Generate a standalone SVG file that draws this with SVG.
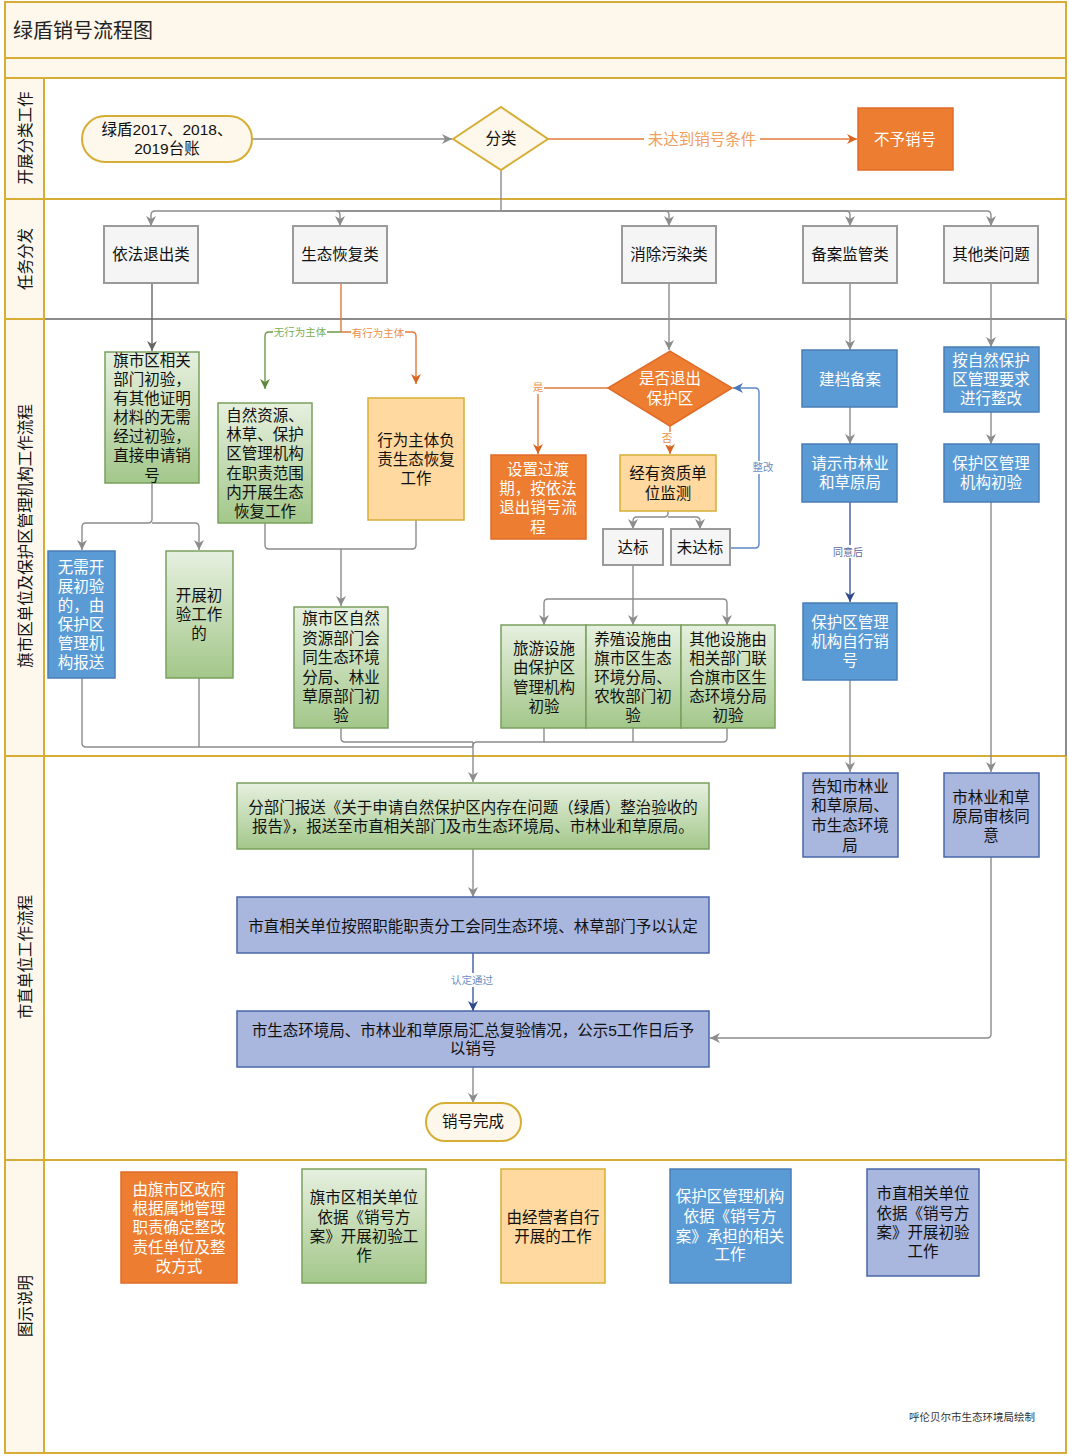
<svg xmlns="http://www.w3.org/2000/svg" width="1069" height="1456" viewBox="0 0 1069 1456">
<style>
.t{font-family:"Liberation Sans","Noto Sans CJK SC",sans-serif;font-size:15.5px;text-anchor:middle;dominant-baseline:central;fill:#111}
.w{fill:#fff}
.lbl{font-family:"Liberation Sans","Noto Sans CJK SC",sans-serif;font-size:10.5px;text-anchor:middle;dominant-baseline:central}
.hd{font-family:"Liberation Sans","Noto Sans CJK SC",sans-serif;font-size:15.5px;text-anchor:middle;dominant-baseline:central;fill:#111}
.g{fill:url(#gg);stroke:#7AA05E;stroke-width:1.5}
.b{fill:#5B9BD5;stroke:#4A7EB5;stroke-width:1.5}
.o{fill:#ED7D31;stroke:#E06C28;stroke-width:1.5}
.lo{fill:#FFD9A0;stroke:#D6AE35;stroke-width:1.5}
.lv{fill:#A9B6DE;stroke:#4867A8;stroke-width:1.5}
.gr{fill:#F5F5F5;stroke:#9A9A9A;stroke-width:2}
.cr{fill:#FDF7EC;stroke:#D6AE35;stroke-width:2}
.c{fill:none;stroke:#8C8C8C;stroke-width:1.4}
.co{fill:none;stroke:#E07A3A;stroke-width:1.4}
.cg{fill:none;stroke:#6E9A48;stroke-width:1.4}
.cb{fill:none;stroke:#5B86C4;stroke-width:1.4}
.cn{fill:none;stroke:#3E5C9E;stroke-width:1.4}
.fr{fill:none;stroke:#D6AE35;stroke-width:2}
</style>
<defs>
<linearGradient id="gg" x1="0" y1="0" x2="0" y2="1">
<stop offset="0" stop-color="#E6F0DF"/>
<stop offset="1" stop-color="#A3C78A"/>
</linearGradient>
<marker id="ag" markerUnits="userSpaceOnUse" markerWidth="10" markerHeight="10" refX="10" refY="5" orient="auto"><path d="M0,0 L10,5 L0,10 L3,5 z" fill="#8C8C8C"/></marker>
<marker id="ad" markerUnits="userSpaceOnUse" markerWidth="10" markerHeight="10" refX="10" refY="5" orient="auto"><path d="M0,0 L10,5 L0,10 L3,5 z" fill="#666"/></marker>
<marker id="ao" markerUnits="userSpaceOnUse" markerWidth="10" markerHeight="10" refX="10" refY="5" orient="auto"><path d="M0,0 L10,5 L0,10 L3,5 z" fill="#D9641F"/></marker>
<marker id="agr" markerUnits="userSpaceOnUse" markerWidth="10" markerHeight="10" refX="10" refY="5" orient="auto"><path d="M0,0 L10,5 L0,10 L3,5 z" fill="#5E8A3C"/></marker>
<marker id="ab" markerUnits="userSpaceOnUse" markerWidth="10" markerHeight="10" refX="10" refY="5" orient="auto"><path d="M0,0 L10,5 L0,10 L3,5 z" fill="#4A78BE"/></marker>
<marker id="an" markerUnits="userSpaceOnUse" markerWidth="10" markerHeight="10" refX="10" refY="5" orient="auto"><path d="M0,0 L10,5 L0,10 L3,5 z" fill="#2F4A8A"/></marker>
</defs>

<g id="frame">
<rect x="5" y="2" width="1061" height="1451" fill="#fff"/>
<rect x="5" y="2" width="1061" height="76" fill="#FDF7EC"/>
<rect x="5" y="78" width="39" height="1375" fill="#FDF7EC"/>
<line x1="5" y1="58" x2="1066" y2="58" class="fr"/>
<line x1="5" y1="78" x2="1066" y2="78" class="fr"/>
<line x1="5" y1="199" x2="1066" y2="199" class="fr"/>
<line x1="5" y1="319" x2="44" y2="319" class="fr"/>
<line x1="44" y1="319" x2="1066" y2="319" stroke="#8C8C8C" stroke-width="2"/>
<line x1="5" y1="756" x2="1066" y2="756" class="fr"/>
<line x1="5" y1="1160" x2="1066" y2="1160" class="fr"/>
<line x1="44" y1="78" x2="44" y2="1453" class="fr"/>
<path d="M1066,319 V2 H5 V1453 H1066 V756" class="fr"/>
<line x1="1066" y1="319" x2="1066" y2="756" stroke="#8C8C8C" stroke-width="2"/>
<text x="13" y="31" font-family="Liberation Sans,Noto Sans CJK SC,sans-serif" font-size="20" fill="#222" dominant-baseline="central">绿盾销号流程图</text>
<text class="hd" transform="translate(25,138) rotate(-90)">开展分类工作</text>
<text class="hd" transform="translate(25,259) rotate(-90)">任务分发</text>
<text class="hd" transform="translate(25,536) rotate(-90)">旗市区单位及保护区管理机构工作流程</text>
<text class="hd" transform="translate(25,957) rotate(-90)">市直单位工作流程</text>
<text class="hd" transform="translate(25,1306) rotate(-90)">图示说明</text>
</g>

<g id="connectors">
<path class="c" d="M252,139 H452" marker-end="url(#ag)"/>
<path class="co" d="M548,139 H857" marker-end="url(#ao)"/>
<rect x="644" y="130" width="116" height="18" fill="#fff"/>
<text class="lbl" x="702" y="139" fill="#F0A060" style="font-size:15.5px">未达到销号条件</text>
<path class="c" d="M501,170 V211"/>
<path class="c" d="M501,211 H155 Q151,211 151,215 V226" marker-end="url(#ag)"/>
<path class="c" d="M501,211 H336 Q340,211 340,215 V226" marker-end="url(#ag)"/>
<path class="c" d="M501,211 H665 Q669,211 669,215 V226" marker-end="url(#ag)"/>
<path class="c" d="M501,211 H846 Q850,211 850,215 V226" marker-end="url(#ag)"/>
<path class="c" d="M501,211 H987 Q991,211 991,215 V226" marker-end="url(#ag)"/>
<path d="M152,283 V351" fill="none" stroke="#666" stroke-width="1.4" marker-end="url(#ad)"/>
<path class="c" d="M152,483 V519 Q152,523 148,523 H86 Q82,523 82,527 V550" marker-end="url(#ag)"/>
<path class="c" d="M152,523 H195 Q199,523 199,527 V550" marker-end="url(#ag)"/>
<path class="co" d="M341,283 V332"/>
<path class="cg" d="M341,332 H269 Q265,332 265,336 V389" marker-end="url(#agr)"/>
<path class="co" d="M341,332 H412 Q416,332 416,336 V384" marker-end="url(#ao)"/>
<rect x="273" y="326" width="54" height="13" fill="#fff"/>
<text class="lbl" x="300" y="332" fill="#7AAE55">无行为主体</text>
<rect x="351" y="327" width="54" height="13" fill="#fff"/>
<text class="lbl" x="378" y="333" fill="#E8914A">有行为主体</text>
<path class="c" d="M265,523 V545 Q265,549 269,549 H341"/>
<path class="c" d="M416,520 V545 Q416,549 412,549 H341"/>
<path class="c" d="M341,549 V606" marker-end="url(#ag)"/>
<path class="c" d="M669,283 V350" marker-end="url(#ag)"/>
<path class="co" d="M608,388 H542 Q538,388 538,392 V454" marker-end="url(#ao)"/>
<rect x="532" y="381" width="12" height="13" fill="#fff"/>
<text class="lbl" x="538" y="387" fill="#E8914A">是</text>
<path class="co" d="M670,426 V454" marker-end="url(#ao)"/>
<rect x="661" y="432" width="12" height="13" fill="#fff"/>
<text class="lbl" x="667" y="438" fill="#E8914A">否</text>
<path class="c" d="M668,511 V513 Q668,517 664,517 H637 Q633,517 633,521 V529" marker-end="url(#ag)"/>
<path class="c" d="M668,517 H696 Q700,517 700,521 V529" marker-end="url(#ag)"/>
<path class="cb" d="M730,548 H755 Q759,548 759,544 V392 Q759,388 755,388 H733" marker-end="url(#ab)"/>
<rect x="751" y="461" width="24" height="13" fill="#fff"/>
<text class="lbl" x="763" y="467" fill="#6C8EBF">整改</text>
<path class="c" d="M633,565 V599"/>
<path class="c" d="M633,599 H548 Q544,599 544,603 V625" marker-end="url(#ag)"/>
<path class="c" d="M633,599 V625" marker-end="url(#ag)"/>
<path class="c" d="M633,599 H723 Q727,599 727,603 V625" marker-end="url(#ag)"/>
<path class="c" d="M82,678 V743 Q82,747 86,747 H473"/>
<path class="c" d="M199,678 V747"/>
<path class="c" d="M341,728 V738 Q341,742 345,742 H473"/>
<path class="c" d="M544,728 V742 H477 Q473,742 473,746"/>
<path class="c" d="M633,728 V742"/>
<path class="c" d="M727,728 V738 Q727,742 723,742 H544"/>
<path class="c" d="M473,742 V782" marker-end="url(#ag)"/>
<path class="c" d="M850,283 V350" marker-end="url(#ag)"/>
<path class="c" d="M850,407 V444" marker-end="url(#ag)"/>
<path class="cn" d="M850,502 V602" marker-end="url(#an)"/>
<rect x="832" y="545" width="34" height="13" fill="#fff"/>
<text class="lbl" x="848" y="552" fill="#5A6A9A" style="font-size:10px">同意后</text>
<path class="c" d="M850,680 V772" marker-end="url(#ag)"/>
<path class="c" d="M991,283 V347" marker-end="url(#ag)"/>
<path class="c" d="M991,412 V444" marker-end="url(#ag)"/>
<path class="c" d="M991,502 V772" marker-end="url(#ag)"/>
<path class="c" d="M991,857 V1034 Q991,1038 987,1038 H710" marker-end="url(#ag)"/>
<path class="c" d="M473,849 V897" marker-end="url(#ag)"/>
<path class="cn" d="M473,953 V1011" marker-end="url(#an)"/>
<rect x="449" y="973" width="46" height="14" fill="#fff"/>
<text class="lbl" x="472" y="980" fill="#6C8EBF">认定通过</text>
<path class="c" d="M473,1067 V1103" marker-end="url(#ag)"/>
</g>

<g id="n-start"><rect class="cr" x="82" y="116" width="170" height="46" rx="23"/><text class="t"><tspan x="167" y="129">绿盾2017、2018、</tspan><tspan x="167" y="148">2019台账</tspan></text></g>
<g id="n-classify"><path class="cr" d="M453,139 L501,107 L548,139 L501,170 Z"/><text class="t" x="501" y="138">分类</text></g>
<g id="n-reject"><rect class="o" x="858" y="108" width="95" height="62"/><text class="t w" x="905" y="139">不予销号</text></g>

<g id="n-exit"><rect class="gr" x="104" y="226" width="94" height="57"/><text class="t" x="151" y="254">依法退出类</text></g>
<g id="n-restore"><rect class="gr" x="293" y="226" width="94" height="57"/><text class="t" x="340" y="254">生态恢复类</text></g>
<g id="n-pollution"><rect class="gr" x="622" y="226" width="94" height="57"/><text class="t" x="669" y="254">消除污染类</text></g>
<g id="n-filing"><rect class="gr" x="803" y="226" width="94" height="57"/><text class="t" x="850" y="254">备案监管类</text></g>
<g id="n-other"><rect class="gr" x="944" y="226" width="94" height="57"/><text class="t" x="991" y="254">其他类问题</text></g>

<g id="n-a1"><rect class="g" x="105" y="352" width="94" height="131"/>
<text class="t"><tspan x="152" y="360">旗市区相关</tspan><tspan x="152" y="379">部门初验，</tspan><tspan x="152" y="398">有其他证明</tspan><tspan x="152" y="417">材料的无需</tspan><tspan x="152" y="436">经过初验，</tspan><tspan x="152" y="455">直接申请销</tspan><tspan x="152" y="475">号</tspan></text></g>
<g id="n-b1"><rect class="b" x="48" y="551" width="67" height="127"/>
<text class="t w"><tspan x="81" y="567">无需开</tspan><tspan x="81" y="586">展初验</tspan><tspan x="81" y="605">的，由</tspan><tspan x="81" y="624">保护区</tspan><tspan x="81" y="643">管理机</tspan><tspan x="81" y="662">构报送</tspan></text></g>
<g id="n-b2"><rect class="g" x="166" y="551" width="67" height="127"/>
<text class="t"><tspan x="199" y="595">开展初</tspan><tspan x="199" y="614">验工作</tspan><tspan x="199" y="633">的</tspan></text></g>
<g id="n-nature"><rect class="g" x="218" y="403" width="94" height="120"/>
<text class="t"><tspan x="265" y="415">自然资源、</tspan><tspan x="265" y="434">林草、保护</tspan><tspan x="265" y="453">区管理机构</tspan><tspan x="265" y="473">在职责范围</tspan><tspan x="265" y="492">内开展生态</tspan><tspan x="265" y="511">恢复工作</tspan></text></g>
<g id="n-actor"><rect class="lo" x="368" y="398" width="96" height="122"/>
<text class="t"><tspan x="416" y="440">行为主体负</tspan><tspan x="416" y="459">责生态恢复</tspan><tspan x="416" y="478">工作</tspan></text></g>
<g id="n-county"><rect class="g" x="294" y="607" width="94" height="121"/>
<text class="t"><tspan x="341" y="618">旗市区自然</tspan><tspan x="341" y="638">资源部门会</tspan><tspan x="341" y="657">同生态环境</tspan><tspan x="341" y="677">分局、林业</tspan><tspan x="341" y="696">草原部门初</tspan><tspan x="341" y="715">验</tspan></text></g>

<g id="n-exitzone"><path class="o" d="M608,388 L670,351 L732,388 L670,426 Z"/><text class="t w"><tspan x="670" y="378">是否退出</tspan><tspan x="670" y="398">保护区</tspan></text></g>
<g id="n-transition"><rect class="o" x="491" y="455" width="95" height="84"/>
<text class="t w"><tspan x="538" y="469">设置过渡</tspan><tspan x="538" y="488">期，按依法</tspan><tspan x="538" y="507">退出销号流</tspan><tspan x="538" y="527">程</tspan></text></g>
<g id="n-monitor"><rect class="lo" x="620" y="455" width="96" height="56"/><text class="t"><tspan x="668" y="473">经有资质单</tspan><tspan x="668" y="493">位监测</tspan></text></g>
<g id="n-pass"><rect class="gr" x="603" y="529" width="60" height="36"/><text class="t" x="633" y="547">达标</text></g>
<g id="n-fail"><rect class="gr" x="671" y="529" width="59" height="36"/><text class="t" x="700" y="547">未达标</text></g>
<g id="n-tour"><rect class="g" x="501" y="625" width="85" height="103"/>
<text class="t"><tspan x="544" y="648">旅游设施</tspan><tspan x="544" y="667">由保护区</tspan><tspan x="544" y="687">管理机构</tspan><tspan x="544" y="706">初验</tspan></text></g>
<g id="n-breed"><rect class="g" x="586" y="625" width="95" height="103"/>
<text class="t"><tspan x="633" y="639">养殖设施由</tspan><tspan x="633" y="658">旗市区生态</tspan><tspan x="633" y="677">环境分局、</tspan><tspan x="633" y="696">农牧部门初</tspan><tspan x="633" y="715">验</tspan></text></g>
<g id="n-otherfac"><rect class="g" x="681" y="625" width="94" height="103"/>
<text class="t"><tspan x="728" y="639">其他设施由</tspan><tspan x="728" y="658">相关部门联</tspan><tspan x="728" y="677">合旗市区生</tspan><tspan x="728" y="696">态环境分局</tspan><tspan x="728" y="715">初验</tspan></text></g>

<g id="n-archive"><rect class="b" x="802" y="350" width="95" height="57"/><text class="t w" x="850" y="379">建档备案</text></g>
<g id="n-request"><rect class="b" x="802" y="444" width="95" height="58"/><text class="t w"><tspan x="850" y="463">请示市林业</tspan><tspan x="850" y="482">和草原局</tspan></text></g>
<g id="n-selfcancel"><rect class="b" x="803" y="603" width="94" height="77"/><text class="t w"><tspan x="850" y="622">保护区管理</tspan><tspan x="850" y="641">机构自行销</tspan><tspan x="850" y="660">号</tspan></text></g>
<g id="n-rectify"><rect class="b" x="944" y="347" width="95" height="65"/><text class="t w"><tspan x="991" y="360">按自然保护</tspan><tspan x="991" y="379">区管理要求</tspan><tspan x="991" y="398">进行整改</tspan></text></g>
<g id="n-pacheck"><rect class="b" x="944" y="444" width="95" height="58"/><text class="t w"><tspan x="991" y="463">保护区管理</tspan><tspan x="991" y="482">机构初验</tspan></text></g>

<g id="n-notify"><rect class="lv" x="803" y="773" width="95" height="84"/>
<text class="t"><tspan x="850" y="786">告知市林业</tspan><tspan x="850" y="805">和草原局、</tspan><tspan x="850" y="825">市生态环境</tspan><tspan x="850" y="845">局</tspan></text></g>
<g id="n-approve"><rect class="lv" x="944" y="773" width="95" height="84"/>
<text class="t"><tspan x="991" y="797">市林业和草</tspan><tspan x="991" y="816">原局审核同</tspan><tspan x="991" y="835">意</tspan></text></g>
<g id="n-report"><rect class="g" x="237" y="783" width="472" height="66"/>
<text class="t"><tspan x="473" y="807">分部门报送《关于申请自然保护区内存在问题（绿盾）整治验收的</tspan><tspan x="473" y="826">报告》，报送至市直相关部门及市生态环境局、市林业和草原局。</tspan></text></g>
<g id="n-confirm"><rect class="lv" x="237" y="897" width="472" height="56"/><text class="t" x="473" y="926">市直相关单位按照职能职责分工会同生态环境、林草部门予以认定</text></g>
<g id="n-summary"><rect class="lv" x="237" y="1011" width="472" height="56"/>
<text class="t"><tspan x="473" y="1030">市生态环境局、市林业和草原局汇总复验情况，公示5工作日后予</tspan><tspan x="473" y="1048">以销号</tspan></text></g>
<g id="n-done"><rect class="cr" x="426" y="1103" width="95" height="38" rx="19"/><text class="t" x="473" y="1121">销号完成</text></g>

<g id="legend-orange"><rect class="o" x="121" y="1172" width="116" height="111"/>
<text class="t w"><tspan x="179" y="1189">由旗市区政府</tspan><tspan x="179" y="1208">根据属地管理</tspan><tspan x="179" y="1227">职责确定整改</tspan><tspan x="179" y="1247">责任单位及整</tspan><tspan x="179" y="1266">改方式</tspan></text></g>
<g id="legend-green"><rect class="g" x="302" y="1169" width="124" height="114"/>
<text class="t"><tspan x="364" y="1197">旗市区相关单位</tspan><tspan x="364" y="1217">依据《销号方</tspan><tspan x="364" y="1236">案》开展初验工</tspan><tspan x="364" y="1255">作</tspan></text></g>
<g id="legend-lightorange"><rect class="lo" x="501" y="1169" width="104" height="114"/>
<text class="t"><tspan x="553" y="1217">由经营者自行</tspan><tspan x="553" y="1236">开展的工作</tspan></text></g>
<g id="legend-blue"><rect class="b" x="670" y="1169" width="121" height="114"/>
<text class="t w"><tspan x="730" y="1196">保护区管理机构</tspan><tspan x="730" y="1216">依据《销号方</tspan><tspan x="730" y="1236">案》承担的相关</tspan><tspan x="730" y="1254">工作</tspan></text></g>
<g id="legend-lavender"><rect class="lv" x="867" y="1169" width="112" height="107"/>
<text class="t"><tspan x="923" y="1193">市直相关单位</tspan><tspan x="923" y="1213">依据《销号方</tspan><tspan x="923" y="1232">案》开展初验</tspan><tspan x="923" y="1251">工作</tspan></text></g>
<text x="909" y="1417" font-family="Liberation Sans,Noto Sans CJK SC,sans-serif" font-size="10.5" fill="#333" dominant-baseline="central">呼伦贝尔市生态环境局绘制</text>
</svg>
